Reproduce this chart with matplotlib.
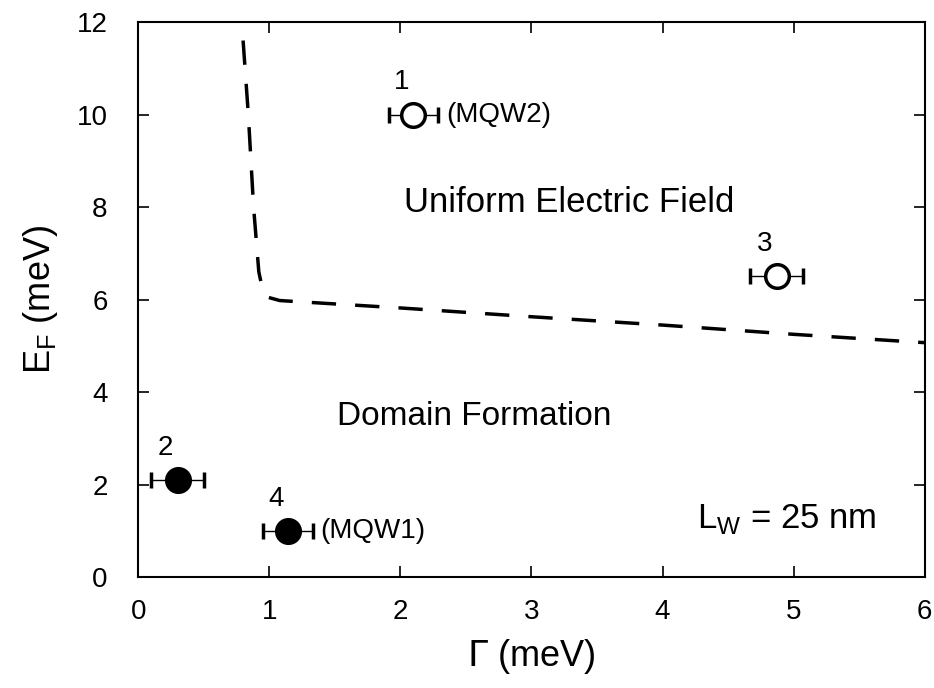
import matplotlib
matplotlib.use('Agg')
import matplotlib.pyplot as plt

plt.rcParams['font.family'] = ['Liberation Sans', 'DejaVu Sans']

# sample points: Gamma (meV), E_F (meV), error in Gamma
gamma = [2.10, 0.30, 4.87, 1.14]
ef = [10.0, 2.1, 6.5, 1.0]
gamma_err = [0.19, 0.20, 0.20, 0.19]
filled = [False, True, False, True]
labels = ['1', '2', '3', '4']
tags = ['(MQW2)', '', '', '(MQW1)']

# phase boundary (dashed)
bound_x = [0.80, 0.84, 0.88, 0.92, 0.95, 0.99, 1.08, 2.0, 3.0, 4.0, 5.0, 6.0]
bound_y = [11.6, 10.0, 8.0, 6.6, 6.2, 6.05, 5.98, 5.82, 5.63, 5.45, 5.25, 5.07]

fig = plt.figure(figsize=(9.34, 6.88), dpi=100)
ax = fig.add_axes([0.148, 0.161, 0.842, 0.807])

ax.plot(bound_x, bound_y, color='black', linestyle=(0, (7, 5.5)), linewidth=2.5)

for x, y, e, f, lab, tag in zip(gamma, ef, gamma_err, filled, labels, tags):
    ax.errorbar(x, y, xerr=e, fmt='o', color='black', ecolor='black',
                elinewidth=1.0, capsize=6, capthick=1.0, markersize=17,
                markerfacecolor='black' if f else 'white',
                markeredgewidth=2.5, zorder=3)
    ax.text(x - 0.09, y + 0.42, lab, fontsize=20, ha='center', va='bottom')
    if tag:
        ax.text(x + 0.25, y, tag, fontsize=20, ha='left', va='center')

ax.text(3.29, 8.1, 'Uniform Electric Field', fontsize=25, ha='center', va='center')
ax.text(2.56, 3.48, 'Domain Formation', fontsize=24, ha='center', va='center')
ax.text(4.26, 1.25, r'L$_\mathregular{W}$ = 25 nm', fontsize=25, ha='left', va='center')

ax.set_xlim(0, 6)
ax.set_ylim(0, 12)
ax.set_xticks(range(0, 7))
ax.set_yticks(range(0, 13, 2))
ax.tick_params(direction='in', top=True, right=True, length=8, width=1.2,
               labelsize=20)
ax.tick_params(axis='y', pad=22)
ax.tick_params(axis='x', pad=16)
for s in ax.spines.values():
    s.set_linewidth(1.5)

ax.set_xlabel(r'$\Gamma$ (meV)', fontsize=26, labelpad=8)
ax.set_ylabel(r'E$_\mathregular{F}$ (meV)', fontsize=26, labelpad=12)

plt.savefig('out.png', dpi=100)
